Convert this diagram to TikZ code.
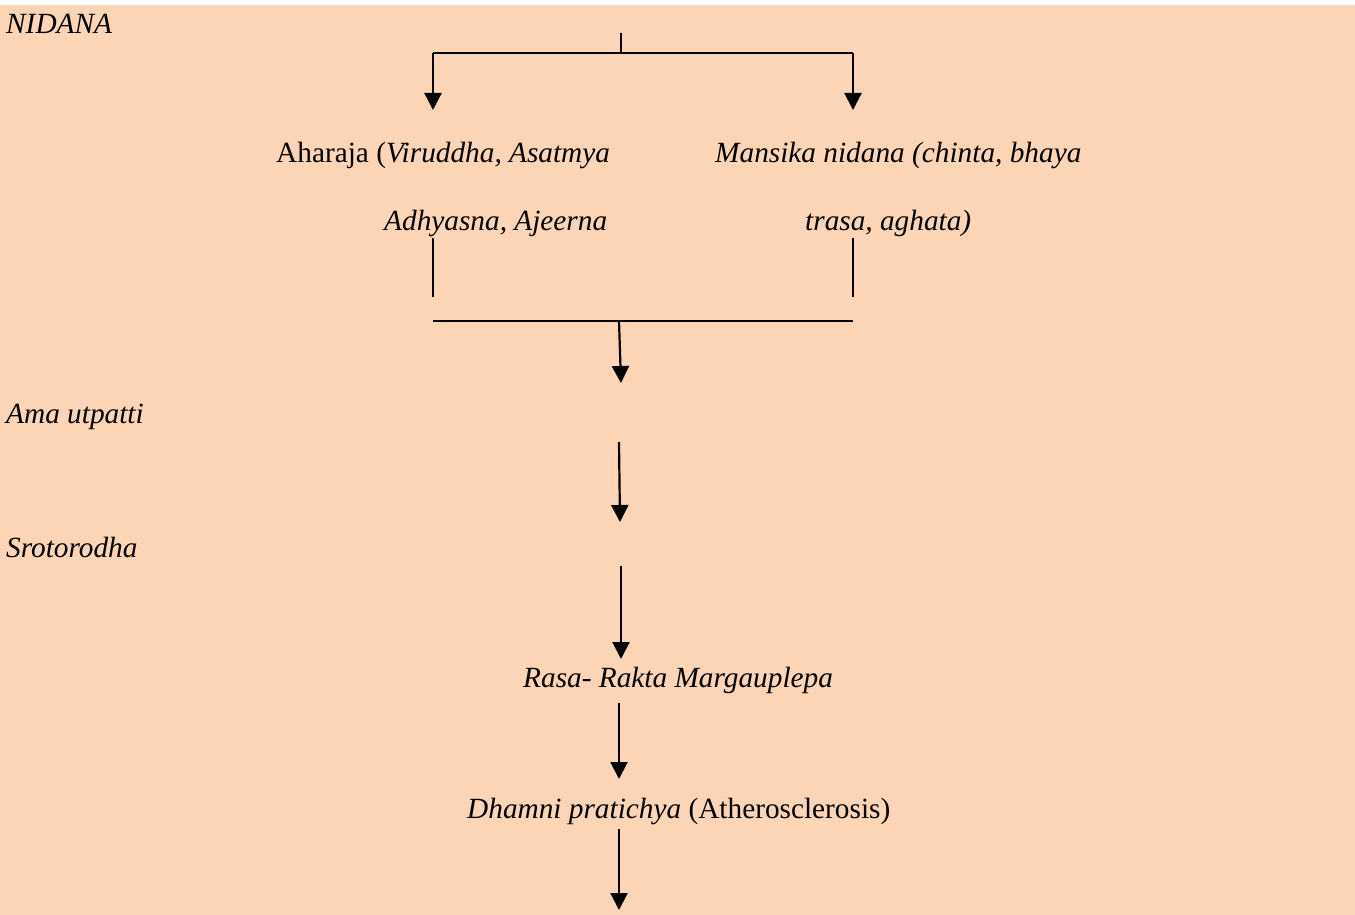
\documentclass[tikz,border=0pt]{standalone}
\usepackage{fontspec}
\setmainfont{Liberation Serif}
\usetikzlibrary{arrows.meta}
\definecolor{peach}{HTML}{FBD5B5}
\begin{document}
\begin{tikzpicture}[x=1pt,y=-1pt,
  lbl/.style={anchor=base west,inner sep=0pt,font=\fontsize{29.3}{33}\selectfont},
  arr/.style={line width=2.2pt,-{Triangle[length=17pt,width=17pt]}},
  ln/.style={line width=1.7pt}]
\useasboundingbox (0,0) rectangle (1355,915);
\fill[white] (0,0) rectangle (1355,915);
\fill[peach] (0,5) rectangle (1355,915);
% texts
\node[lbl] (nidana) at (6,34) {\textit{NIDANA}};
\node[lbl] (ahar1) at (276,163) {Aharaja (\textit{Viruddha, Asatmya}};
\node[lbl] (ahar2) at (384,230) {\textit{Adhyasna, Ajeerna}};
\node[lbl] (mans1) at (715,163) {\textit{Mansika nidana (chinta, bhaya}};
\node[lbl] (mans2) at (805,230) {\textit{trasa, aghata)}};
\node[lbl] (ama) at (6,423) {\textit{Ama utpatti}};
\node[lbl] (sroto) at (6,557) {\textit{Srotorodha}};
\node[lbl] (rasa) at (523,687) {\textit{Rasa- Rakta Margauplepa}};
\node[lbl] (dham) at (467,818) {\textit{Dhamni pratichya} (Atherosclerosis)};
% coordinates
\coordinate (top) at (621,33);
\coordinate (topmid) at (621,53);
\coordinate (topL) at (433,53);
\coordinate (topR) at (853,53);
\coordinate (tipL) at (433,110);
\coordinate (tipR) at (853,110);
\coordinate (vL1) at (433,238);
\coordinate (vL2) at (433,297);
\coordinate (vR1) at (853,238);
\coordinate (vR2) at (853,297);
\coordinate (hL) at (433,321);
\coordinate (hR) at (853,321);
\coordinate (a1s) at (619,321);
\coordinate (a1e) at (621,383);
\coordinate (a2s) at (619,442);
\coordinate (a2e) at (620,522);
\coordinate (a3s) at (621,566);
\coordinate (a3e) at (621,659);
\coordinate (a4s) at (619,703);
\coordinate (a4e) at (619,779);
\coordinate (a5s) at (619,829);
\coordinate (a5e) at (619,910);
% connectors
\draw[ln] (top) -- (topmid);
\draw[line width=2.2pt] (topL) -- (topR);
\draw[arr] (topL) -- (tipL);
\draw[arr] (topR) -- (tipR);
\draw[ln] (vL1) -- (vL2);
\draw[ln] (vR1) -- (vR2);
\draw[line width=1.4pt] (hL) -- (hR);
\draw[arr] (a1s) -- (a1e);
\draw[arr] (a2s) -- (a2e);
\draw[arr] (a3s) -- (a3e);
\draw[arr] (a4s) -- (a4e);
\draw[arr] (a5s) -- (a5e);
\end{tikzpicture}
\end{document}
